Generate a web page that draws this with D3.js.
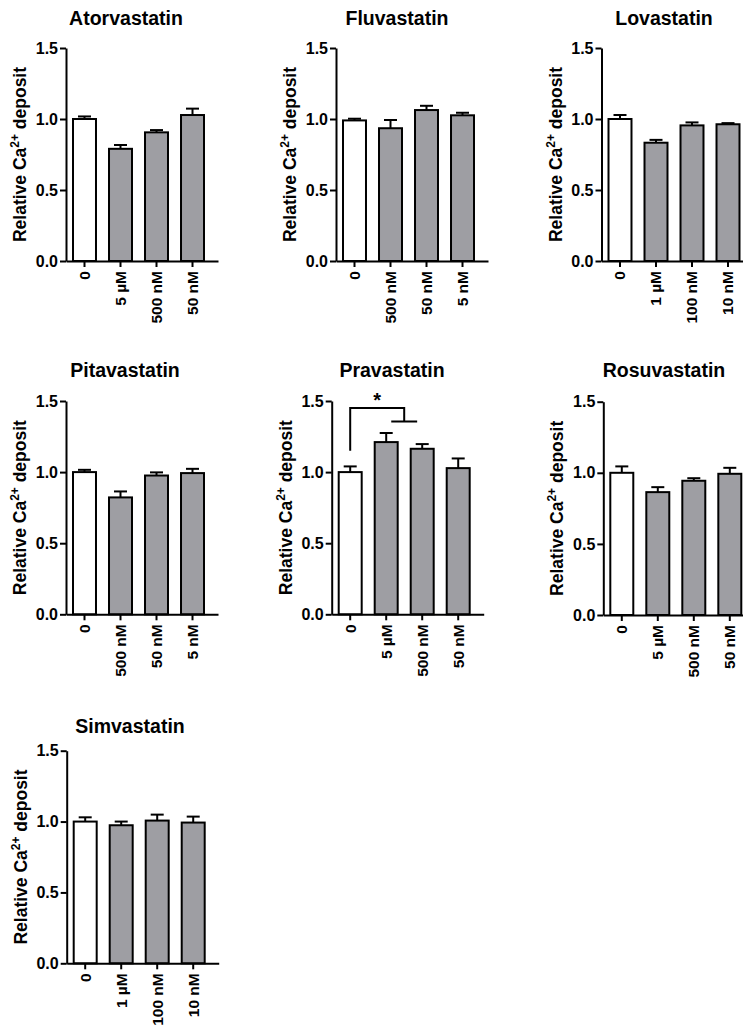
<!DOCTYPE html>
<html>
<head>
<meta charset="utf-8">
<script src="https://cdn.jsdelivr.net/npm/d3@7"></script>
<style>
  html, body { margin: 0; padding: 0; background: #fff; }
  svg { display: block; }
  text { font-family: "Liberation Sans", Arial, Helvetica, sans-serif; font-weight: bold; fill: #000; }
</style>
</head>
<body>
<svg id="chart" width="743" height="1028"></svg>
<script>
// ---------- data ----------
const drugNames = ["Atorvastatin", "Fluvastatin", "Lovastatin", "Pitavastatin", "Pravastatin", "Rosuvastatin", "Simvastatin"];

const atorCategories = ["0", "5 µM", "500 nM", "50 nM"];
const atorMeans      = [1.00, 0.79, 0.906, 1.028];
const atorSem        = [0.018, 0.027, 0.016, 0.045];

const fluvaCategories = ["0", "500 nM", "50 nM", "5 nM"];
const fluvaMeans      = [0.99, 0.935, 1.063, 1.026];
const fluvaSem        = [0.012, 0.058, 0.030, 0.018];

const lovaCategories = ["0", "1 µM", "100 nM", "10 nM"];
const lovaMeans      = [1.00, 0.833, 0.955, 0.963];
const lovaSem        = [0.028, 0.020, 0.021, 0.008];

const pitaCategories = ["0", "500 nM", "50 nM", "5 nM"];
const pitaMeans      = [1.00, 0.822, 0.976, 0.993];
const pitaSem        = [0.016, 0.042, 0.022, 0.030];

const pravaCategories = ["0", "5 µM", "500 nM", "50 nM"];
const pravaMeans      = [1.00, 1.211, 1.164, 1.028];
const pravaSem        = [0.040, 0.064, 0.033, 0.068];

const rosuCategories = ["0", "5 µM", "500 nM", "50 nM"];
const rosuMeans      = [1.00, 0.864, 0.944, 0.993];
const rosuSem        = [0.045, 0.035, 0.018, 0.042];

const simvaCategories = ["0", "1 µM", "100 nM", "10 nM"];
const simvaMeans      = [1.00, 0.974, 1.007, 0.993];
const simvaSem        = [0.030, 0.026, 0.042, 0.042];

const yTickValues = [0.0, 0.5, 1.0, 1.5];
const yLabelMain = "Relative Ca";
const yLabelSup = "2+";
const yLabelTail = " deposit";

// significance annotation (Pravastatin)
const sigPanel = "Pravastatin";
const sigControl = "0";
const sigGroup = ["5 µM", "500 nM"];
const sigLevels = { start: 1.15, top: 1.45, drop: 1.355 };
const sigSymbol = "*";

// ---------- layout ----------
const panels = [
  { name: drugNames[0], cats: atorCategories,  means: atorMeans,  sem: atorSem,  ax: 66,    top: 48,    bot: 261,   tx: 126, ty: 25 },
  { name: drugNames[1], cats: fluvaCategories, means: fluvaMeans, sem: fluvaSem, ax: 336,   top: 48,    bot: 261,   tx: 397, ty: 25 },
  { name: drugNames[2], cats: lovaCategories,  means: lovaMeans,  sem: lovaSem,  ax: 601.5, top: 48,    bot: 261,   tx: 664, ty: 25 },
  { name: drugNames[3], cats: pitaCategories,  means: pitaMeans,  sem: pitaSem,  ax: 66,    top: 401,   bot: 614.3, tx: 125, ty: 377 },
  { name: drugNames[4], cats: pravaCategories, means: pravaMeans, sem: pravaSem, ax: 331.7, top: 401,   bot: 614.3, tx: 392, ty: 377 },
  { name: drugNames[5], cats: rosuCategories,  means: rosuMeans,  sem: rosuSem,  ax: 603.3, top: 401.7, bot: 615,   tx: 664, ty: 377 },
  { name: drugNames[6], cats: simvaCategories, means: simvaMeans, sem: simvaSem, ax: 66.7,  top: 750.7, bot: 963.3, tx: 130, ty: 733 }
];

const svg = d3.select("#chart");
const barFill = "#9e9ea3";

panels.forEach(p => {
  const g = svg.append("g");
  const y = d3.scaleLinear().domain([0, 1.5]).range([p.bot, p.top]);
  const x = d3.scaleBand().domain(p.cats)
    .range([p.ax, p.ax + 152])
    .paddingInner(0.306).paddingOuter(0.264).align(0.316);
  const bw = x.bandwidth();

  // title
  g.append("text").attr("x", p.tx).attr("y", p.ty)
    .attr("text-anchor", "middle").style("font-size", "19.5px").text(p.name);

  const data = p.cats.map((c, i) => ({ c, m: p.means[i], s: p.sem[i], i }));
  // error bars (upper only)
  const eb = g.append("g");
  data.forEach(d => {
    const cx = x(d.c) + bw / 2;
    eb.append("line").attr("x1", cx).attr("x2", cx)
      .attr("y1", y(d.m)).attr("y2", y(d.m + d.s))
      .attr("stroke", "#000").attr("stroke-width", 2);
    eb.append("line").attr("x1", cx - 6.5).attr("x2", cx + 6.5)
      .attr("y1", y(d.m + d.s)).attr("y2", y(d.m + d.s))
      .attr("stroke", "#000").attr("stroke-width", 2);
  });
  // bars
  g.selectAll("rect.bar").data(data).enter().append("rect")
    .attr("class", "bar")
    .attr("x", d => x(d.c) + 1)
    .attr("width", bw - 2)
    .attr("y", d => y(d.m))
    .attr("height", d => y(0) - y(d.m))
    .attr("fill", d => d.i === 0 ? "#fff" : barFill)
    .attr("stroke", "#000").attr("stroke-width", 2);

  // y axis
  const yAxis = g.append("g").attr("transform", `translate(${p.ax},0)`)
    .call(d3.axisLeft(y).tickValues(yTickValues).tickSize(6).tickSizeOuter(0).tickPadding(2).tickFormat(d3.format(".1f")));
  yAxis.selectAll("text").style("font-size", "16px");
  yAxis.selectAll("line").attr("stroke-width", 2);
  yAxis.select(".domain").attr("stroke-width", 2);

  // x axis
  const xAxis = g.append("g").attr("transform", `translate(0,${p.bot})`)
    .call(d3.axisBottom(x).tickSize(6).tickSizeOuter(0).tickPadding(4));
  xAxis.select(".domain").attr("stroke-width", 2);
  xAxis.selectAll("line").attr("stroke-width", 2);
  xAxis.selectAll("text")
    .style("font-size", "15.5px")
    .attr("text-anchor", "end")
    .attr("dy", "0.35em")
    .attr("transform", "rotate(-90)")
    .attr("x", -10).attr("y", 0);

  // y label
  const midY = (p.top + p.bot) / 2;
  const lab = g.append("text")
    .attr("transform", `translate(${p.ax - 40},${midY}) rotate(-90)`)
    .attr("text-anchor", "middle").style("font-size", "17.5px");
  lab.append("tspan").text(yLabelMain);
  lab.append("tspan").attr("dy", -7).style("font-size", "12px").text(yLabelSup);
  lab.append("tspan").attr("dy", 7).text(yLabelTail);

  // significance bracket
  if (p.name === sigPanel) {
    const x0 = x(sigControl) + bw / 2;
    const mid = (x(sigGroup[0]) + x(sigGroup[1]) + bw) / 2;
    const half = 0.36 * x.step();
    const path = d3.path();
    path.moveTo(x0, y(sigLevels.start));
    path.lineTo(x0, y(sigLevels.top));
    path.lineTo(mid, y(sigLevels.top));
    path.lineTo(mid, y(sigLevels.drop));
    path.moveTo(mid - half, y(sigLevels.drop));
    path.lineTo(mid + half, y(sigLevels.drop));
    g.append("path").attr("d", path.toString()).attr("fill", "none")
      .attr("stroke", "#000").attr("stroke-width", 2);
    g.append("text").attr("x", (x0 + mid) / 2).attr("y", y(1.5) + 6)
      .attr("text-anchor", "middle").style("font-size", "20px").text(sigSymbol);
  }
});
</script>
</body>
</html>
